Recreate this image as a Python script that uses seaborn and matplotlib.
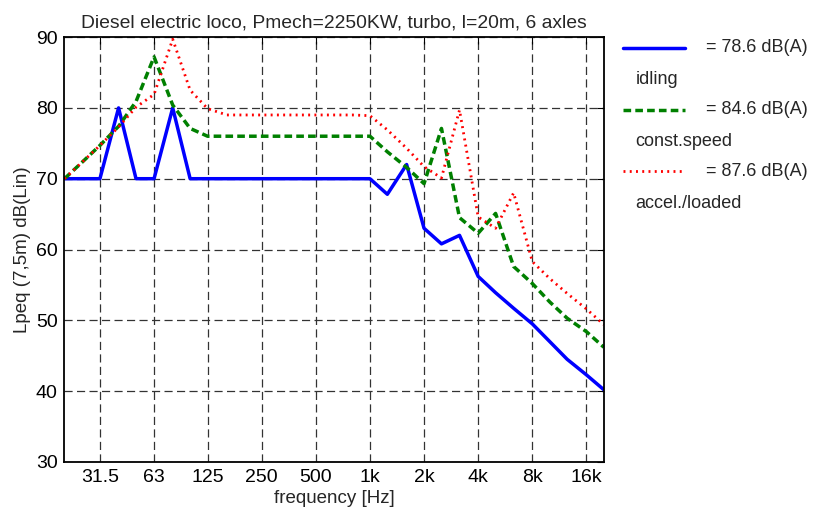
import matplotlib
matplotlib.use("Agg")
import matplotlib.pyplot as plt
import seaborn as sns
import numpy as np
import pandas as pd
from matplotlib.lines import Line2D

bands = [20, 25, 31.5, 40, 50, 63, 80, 100, 125, 160, 200, 250, 315, 400, 500, 630,
         800, 1000, 1250, 1600, 2000, 2500, 3150, 4000, 5000, 6300, 8000, 10000,
         12500, 16000, 20000]
idling = [70, 70, 70, 80, 70, 70, 80, 70, 70, 70, 70, 70, 70, 70, 70, 70,
          70, 70, 67.8, 72, 63, 60.8, 62, 56.2, 53.9, 51.7, 49.5, 47.0,
          44.5, 42.3, 40.2]
const_speed = [70, 72.3, 74.7, 77.4, 80.9, 87.2, 80.4, 77.1, 76, 76, 76, 76, 76, 76, 76, 76,
               76, 76, 73.8, 71.6, 69.3, 77.1, 64.5, 62.3, 65.1, 57.6, 55.2, 52.6,
               50.3, 48.4, 46.2]
accel_loaded = [70, 72.3, 74.7, 77.3, 80.1, 81.9, 89.7, 82.5, 79.9, 79, 79, 79, 79, 79, 79, 79,
                79, 78.9, 76.9, 74.3, 71.7, 70.1, 79.7, 64.6, 63.0, 68.0, 58.3, 55.9,
                53.8, 51.6, 49.4]
series_names = ["idling", "const.speed", "accel./loaded"]
series_levels = ["= 78.6 dB(A)", "= 84.6 dB(A)", "= 87.6 dB(A)"]
tick_freqs = [31.5, 63, 125, 250, 500, 1000, 2000, 4000, 8000, 16000]
tick_labels = ["31.5", "63", "125", "250", "500", "1k", "2k", "4k", "8k", "16k"]
title = "Diesel electric loco, Pmech=2250KW, turbo, l=20m, 6 axles"

sns.set_style("white")
plt.rcParams['font.family'] = ['Liberation Sans', 'DejaVu Sans']

fig = plt.figure(figsize=(8.16, 5.15), dpi=100)
ax = fig.add_axes([0.079, 0.103, 0.661, 0.825])

colors = ["#0000ff", "#008000", "#ff0000"]
styles = [dict(linestyle="-", linewidth=2.5),
          dict(linestyle=(0, (2.2, 1.2)), linewidth=2.5),
          dict(linestyle=(0, (0.7, 1.55)), linewidth=2.0)]
for vals, name, c, st in zip([idling, const_speed, accel_loaded], series_names, colors, styles):
    df = pd.DataFrame({"f": bands, "L": vals})
    sns.lineplot(data=df, x="f", y="L", ax=ax, color=c, legend=False, **st)

ax.set_xscale("log")
ax.set_xlim(20, 20000)
ax.set_ylim(30, 90)
ax.set_xticks(tick_freqs)
ax.set_xticklabels(tick_labels)
ax.xaxis.set_minor_locator(matplotlib.ticker.NullLocator())
ax.set_yticks(np.arange(30, 91, 10))
ax.tick_params(axis="both", direction="in", top=True, right=True, labelsize=14,
               length=5, width=0.8, colors="black", pad=5)
ax.grid(True, color="#333333", linestyle=(0, (6.5, 3.5)), linewidth=0.9)
for s in ax.spines.values():
    s.set_color("black")
    s.set_linewidth(1.3)
ax.set_xlabel("frequency [Hz]", fontsize=13.5, labelpad=3)
ax.set_ylabel("Lpeq (7,5m) dB(Lin)", fontsize=13.5, labelpad=3)
ax.set_title(title, fontsize=13.9, pad=7)

# legend, drawn manually outside the axes
ys = [0.907, 0.787, 0.667]
for c, st, lev, name, y in zip(colors, styles, series_levels, series_names, ys):
    fig.add_artist(Line2D([0.764, 0.840], [y, y], color=c, transform=fig.transFigure, **st))
    fig.text(0.865, y, lev, fontsize=13, va="center", ha="left")
    fig.text(0.779, y - 0.062, name, fontsize=13, va="center", ha="left")

fig.savefig("out.png", dpi=100)
